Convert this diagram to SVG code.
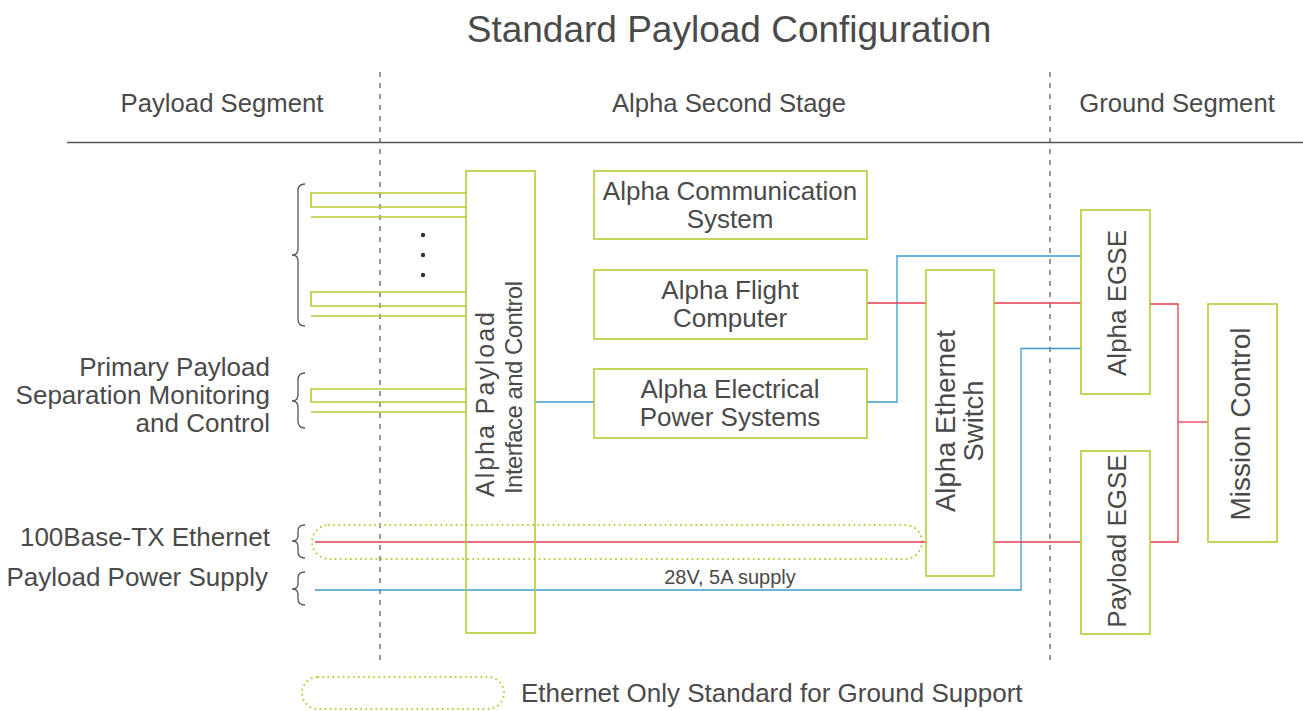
<svg xmlns="http://www.w3.org/2000/svg" width="1303" height="711" viewBox="0 0 1303 711">
<style>
text{font-family:"Liberation Sans",Arial,sans-serif;fill:#4a4a4a}
.t{font-size:37px}
.h{font-size:25.7px}
.n{font-size:26px}
.box{fill:#fff;stroke:#b9c935;stroke-width:1.6}
.g{fill:none;stroke:#b9c935;stroke-width:1.6}
.dash{fill:none;stroke:#555;stroke-width:1.2;stroke-dasharray:5 6}
.brace{fill:none;stroke:#555;stroke-width:1.3}
.dot{fill:none;stroke:#b9c935;stroke-width:2;stroke-dasharray:0.1 5;stroke-linecap:round}
.red{fill:none;stroke:#e83a4c;stroke-width:1.3}
.blue{fill:none;stroke:#3d9bd3;stroke-width:1.3}
</style>
<rect width="1303" height="711" fill="#fff"/>
<text class="t" x="729" y="42" text-anchor="middle">Standard Payload Configuration</text>
<g id="headers">
<text class="h" x="222" y="112" text-anchor="middle">Payload Segment</text>
<text class="h" x="729" y="112" text-anchor="middle">Alpha Second Stage</text>
<text class="h" x="1177" y="112" text-anchor="middle">Ground Segment</text>
<line x1="67" y1="142.5" x2="1303" y2="142.5" stroke="#555" stroke-width="1.3"/>
<line class="dash" x1="380" y1="72" x2="380" y2="660"/>
<line class="dash" x1="1050" y1="72" x2="1050" y2="660"/>
</g>
<g id="left-labels">
<path class="brace" d="M305,184 Q298,184 298,191 L298,249 Q298,255 292,255 Q298,255 298,261 L298,319 Q298,326 305,326"/>
<path class="brace" d="M305,373 Q298,373 298,380 L298,395 Q298,401 292,401 Q298,401 298,407 L298,421 Q298,428 305,428"/>
<path class="brace" d="M305,525 Q298,525 298,531 L298,536 Q298,541 292,541 Q298,541 298,546 L298,552 Q298,558 305,558"/>
<path class="brace" d="M305,572 Q298,572 298,578 L298,584 Q298,589 292,589 Q298,589 298,594 L298,599 Q298,605 305,605"/>
<text class="n" x="270" y="376" text-anchor="end">Primary Payload</text>
<text class="n" x="270" y="404" text-anchor="end">Separation Monitoring</text>
<text class="n" x="270" y="432" text-anchor="end">and Control</text>
<text class="n" x="270" y="546" text-anchor="end">100Base-TX Ethernet</text>
<text class="n" x="268" y="586" text-anchor="end">Payload Power Supply</text>
<circle cx="423" cy="235" r="2.2" fill="#333"/>
<circle cx="423" cy="255" r="2.2" fill="#333"/>
<circle cx="423" cy="275" r="2.2" fill="#333"/>
</g>
<g id="payload-lines">
<path class="g" d="M466,193 H311 V207 H466 M311,217 H466"/>
<path class="g" d="M466,292 H311 V306 H466 M311,316 H466"/>
<path class="g" d="M466,389 H311 V402 H466 M311,412 H466"/>
</g>
<g id="connectors">
<rect class="dot" x="312" y="525" width="610" height="34" rx="17"/>
<line class="red" x1="315" y1="542" x2="926" y2="542"/>
<polyline class="blue" points="315,590 1021,590 1021,348.5 1081,348.5"/>
<line class="blue" x1="535" y1="402" x2="594" y2="402"/>
<polyline class="blue" points="867,402 897,402 897,256 1081,256"/>
<line class="red" x1="867" y1="303" x2="926" y2="303"/>
<line class="red" x1="994" y1="303" x2="1081" y2="303"/>
<line class="red" x1="994" y1="542" x2="1081" y2="542"/>
<polyline class="red" points="1150,304 1178,304 1178,542 1150,542"/>
<line class="red" x1="1178" y1="422" x2="1208" y2="422"/>
</g>
<g id="alpha-payload-interface">
<rect class="g" x="466" y="171" width="69" height="462"/>
<text font-size="25" transform="translate(494,497) rotate(-90)" textLength="185" lengthAdjust="spacing">Alpha Payload</text>
<text font-size="24" transform="translate(522,494) rotate(-90)" textLength="213" lengthAdjust="spacing">Interface and Control</text>
</g>
<g id="alpha-communication">
<rect class="box" x="594" y="171" width="273" height="68"/>
<text class="n" x="730" y="200" text-anchor="middle">Alpha Communication</text>
<text class="n" x="730" y="228" text-anchor="middle">System</text>
</g>
<g id="alpha-flight-computer">
<rect class="box" x="594" y="270" width="273" height="69"/>
<text class="n" x="730" y="299" text-anchor="middle">Alpha Flight</text>
<text class="n" x="730" y="327" text-anchor="middle">Computer</text>
</g>
<g id="alpha-eps">
<rect class="box" x="594" y="369" width="273" height="69"/>
<text class="n" x="730" y="398" text-anchor="middle">Alpha Electrical</text>
<text class="n" x="730" y="426" text-anchor="middle">Power Systems</text>
</g>
<g id="alpha-ethernet-switch">
<rect class="box" x="926" y="270" width="68" height="306"/>
<text font-size="27.5" text-anchor="middle" transform="translate(955,421) rotate(-90)">Alpha Ethernet</text>
<text font-size="27.5" text-anchor="middle" transform="translate(983,421) rotate(-90)">Switch</text>
</g>
<g id="alpha-egse">
<rect class="box" x="1081" y="210" width="69" height="184"/>
<text class="n" text-anchor="middle" transform="translate(1126,303) rotate(-90)">Alpha  EGSE</text>
</g>
<g id="payload-egse">
<rect class="box" x="1081" y="451" width="69" height="183"/>
<text class="n" text-anchor="middle" transform="translate(1126,541) rotate(-90)">Payload EGSE</text>
</g>
<g id="mission-control">
<rect class="box" x="1208" y="304" width="69" height="238"/>
<text font-size="28" text-anchor="middle" transform="translate(1250,424) rotate(-90)">Mission Control</text>
</g>
<text x="730" y="584" text-anchor="middle" font-size="20">28V, 5A supply</text>
<g id="legend">
<rect class="dot" x="302" y="677" width="202" height="32" rx="16"/>
<text class="n" x="521" y="702">Ethernet Only Standard for Ground Support</text>
</g>
</svg>
